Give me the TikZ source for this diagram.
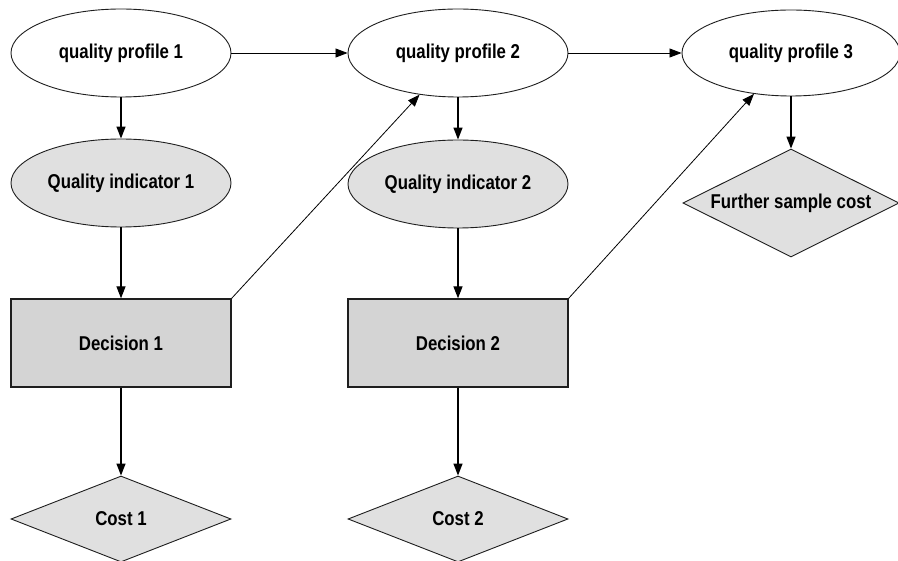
\documentclass[tikz,border=0pt]{standalone}
\usepackage{fontspec}
\setmainfont{Liberation Sans}[FakeStretch=0.84]
\usetikzlibrary{shapes.geometric,arrows.meta}
\definecolor{indfill}{RGB}{224,224,224}
\definecolor{decfill}{RGB}{212,212,212}
\definecolor{edgecol}{RGB}{30,30,30}
\tikzset{
  lbl/.style={font=\fontsize{20}{23}\selectfont\bfseries, text=black},
  prof/.style={lbl, ellipse, draw=edgecol, line width=0.9pt, fill=white, minimum width=220pt, minimum height=88pt, inner sep=0pt},
  ind/.style={prof, fill=indfill},
  dec/.style={lbl, rectangle, draw=edgecol, line width=1.3pt, fill=decfill, minimum width=220pt, minimum height=88pt, inner sep=0pt},
  costbox/.style={lbl, diamond, draw=edgecol, line width=0.9pt, fill=indfill, minimum width=220pt, minimum height=86pt, inner sep=0pt, aspect=2.5},
  arr/.style={draw=black, line width=1.3pt, -{Triangle[length=12pt,width=9pt]}},
  arrthin/.style={draw=black, line width=0.8pt, -{Triangle[length=12pt,width=9pt]}}
}
\begin{document}
\begin{tikzpicture}[x=1pt,y=-1pt]
\useasboundingbox (0,0) rectangle (898,561);
\clip (0,0) rectangle (898,561);
\fill[white] (0,0) rectangle (898,561);
\node[prof] (qp1) at (121,53) {quality profile 1};
\node[prof] (qp2) at (458,53) {quality profile 2};
\node[prof, minimum width=218pt, minimum height=86pt] (qp3) at (791,53) {quality profile 3};
\node[ind] (qi1) at (121,183) {Quality indicator 1};
\node[ind] (qi2) at (458,184) {Quality indicator 2};
\node[dec] (d1) at (121,343) {Decision 1};
\node[dec] (d2) at (458,343) {Decision 2};
\node[costbox] (c1) at (121,519) {Cost 1};
\node[costbox] (c2) at (458,519) {Cost 2};
\node[costbox, minimum width=216pt, minimum height=108pt] (fsc) at (791,203) {Further sample cost};
\draw[arrthin] (qp1) -- (qp2);
\draw[arrthin] (qp2) -- (qp3);
\draw[arr] (qp1) -- (qi1);
\draw[arr] (qi1) -- (d1);
\draw[arr] (d1) -- (c1);
\draw[arr] (qp2) -- (qi2);
\draw[arr] (qi2) -- (d2);
\draw[arr] (d2) -- (c2);
\draw[arr] (qp3) -- (fsc);
\draw[arrthin] (d1.north east) -- (qp2);
\draw[arrthin] (d2.north east) -- (qp3);
\end{tikzpicture}
\end{document}
